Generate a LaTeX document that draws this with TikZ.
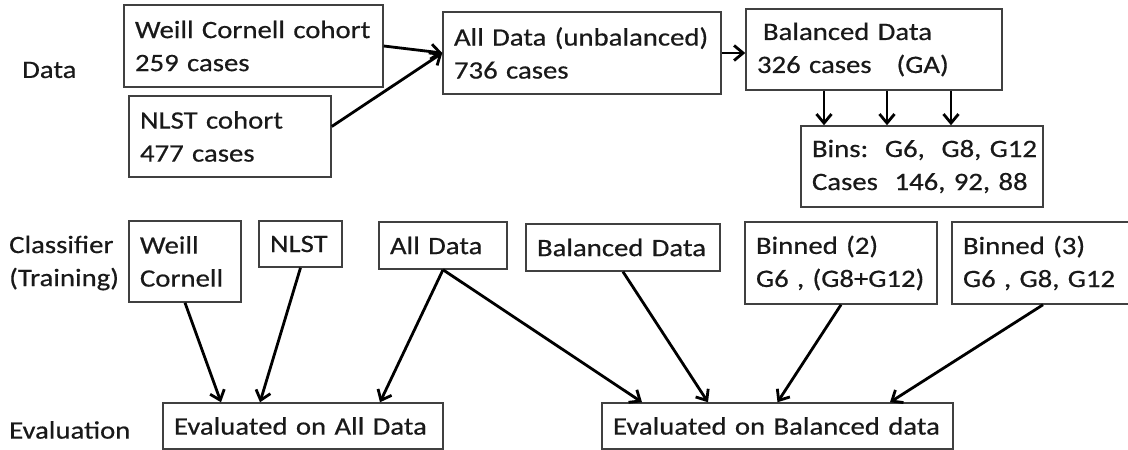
\documentclass[tikz,border=0pt]{standalone}
\usepackage{fontspec}
\setmainfont{Carlito}[FakeStretch=1.15, FakeBold=0.5]
\usetikzlibrary{arrows.meta}
\tikzset{
  flowarrow/.style={-{Straight Barb[length=9pt,width=15pt]}, line width=2.8pt},
  databox/.style={draw=black!75, line width=1.5pt, fill=white, inner xsep=11pt, inner ysep=0pt, align=left},
  rowlabel/.style={align=left, anchor=west, inner sep=0pt}
}
\begin{document}
\begin{tikzpicture}[x=1pt, y=-1pt, every node/.style={font=\fontsize{25}{33}\selectfont, text=black!90}]
  \useasboundingbox (0,0) rectangle (1128,450);
  % data row
  \node[rowlabel] (ldata) at (22,70) {Data};
  \node[databox, text width=237pt, minimum height=82pt] (wcc) at (253.5,46) {Weill~Cornell~cohort\\259 cases};
  \node[databox, text width=180pt, minimum height=81pt] (nlstc) at (230,136.5) {NLST cohort\\477 cases};
  \node[databox, text width=256pt, minimum height=82pt] (alld) at (582,53) {All~Data~(unbalanced)\\736 cases};
  \node[databox, text width=234pt, minimum height=81pt] (bal) at (874,49.5) {\hspace*{6pt}Balanced Data\\326 cases~~~(GA)};
  \node[databox, text width=220pt, minimum height=81pt] (bins) at (922,166.5) {Bins:~~G6,~~G8,~G12\\Cases~~146,~92,~88};
  \draw[flowarrow] (wcc.east) -- (alld.west);
  \draw[flowarrow] ([yshift=10pt]nlstc.east) -- (alld.west);
  \draw[flowarrow] (alld.east) -- (alld.east -| bal.west);
  \foreach \dx in {-98,-35,29} {
    \path (bins.north) ++(\dx,0) coordinate (bt);
    \draw[flowarrow] (bt |- bal.south) -- (bt);
  }
  % classifier row
  \node[rowlabel] (ltrain) at (9,263) {Classifier\\(Training)};
  \node[databox, text width=90pt, minimum height=81pt] (twc) at (185,261.5) {Weill\\Cornell};
  \node[databox, text width=61pt, minimum height=46pt] (tnl) at (300.5,244) {NLST};
  \node[databox, text width=106pt, minimum height=47pt] (tall) at (443,245.5) {All~Data};
  \node[databox, text width=172pt, minimum height=47pt] (tbal) at (623,247.5) {Balanced~Data};
  \node[databox, text width=170pt, minimum height=82pt] (tb2) at (841,263) {Binned (2)\\G6~,~(G8+G12)};
  \node[databox, text width=160pt, minimum height=82pt] (tb3) at (1043,263) {Binned (3)\\G6~,~G8,~G12};
  % evaluation row
  \node[rowlabel] (leval) at (9,430) {Evaluation};
  \node[databox, text width=258pt, minimum height=46pt] (eall) at (303,426) {Evaluated~on~All~Data};
  \node[databox, text width=329pt, minimum height=46pt] (ebal) at (777.5,426) {Evaluated~on~Balanced~data};
  \draw[flowarrow] (twc.south) -- ([xshift=-82pt]eall.north);
  \draw[flowarrow] (tnl.south) -- ([xshift=-43pt]eall.north);
  \draw[flowarrow] (tall.south) -- ([xshift=77pt]eall.north);
  \draw[flowarrow] (tall.south) -- ([xshift=-135.5pt]ebal.north);
  \draw[flowarrow] (tbal.south) -- ([xshift=-69.5pt]ebal.north);
  \draw[flowarrow] (tb2.south) -- (ebal.north);
  \draw[flowarrow] (tb3.south) -- ([xshift=112.5pt]ebal.north);
\end{tikzpicture}
\end{document}
